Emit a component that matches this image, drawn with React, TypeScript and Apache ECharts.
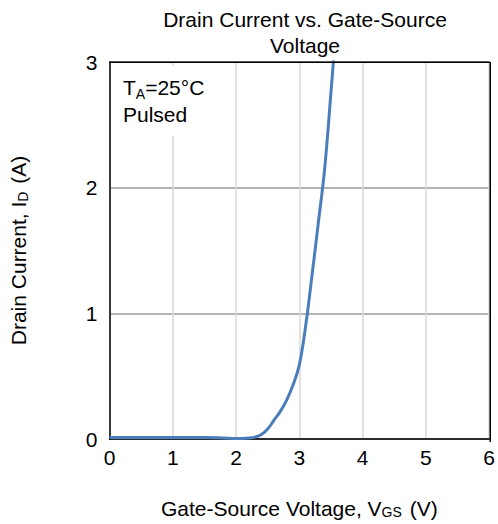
import React, { useEffect, useRef } from "react";
import * as echarts from "echarts";

const vgs = [0, 0.5, 1, 1.5, 1.8, 2.0, 2.2, 2.3, 2.4, 2.5, 2.6, 2.7, 2.8, 2.9, 3.0, 3.1, 3.2, 3.3, 3.4, 3.5, 3.6];
const id = [0.012, 0.012, 0.012, 0.012, 0.008, 0.004, 0.008, 0.015, 0.035, 0.08, 0.15, 0.22, 0.31, 0.43, 0.59, 0.9, 1.3, 1.72, 2.15, 2.76, 3.4];
const titleLines = ["Drain Current vs. Gate-Source", "Voltage"];

const FONT = "'Liberation Sans', Arial, sans-serif";

export default function App() {
  const ref = useRef<HTMLDivElement>(null);
  useEffect(() => {
    const chart = echarts.init(ref.current!, null, { renderer: "svg" });
    const data = vgs.map((v, i) => [v, id[i]]);
    const sub = (size: number, pad: number) => ({
      fontSize: size,
      verticalAlign: "bottom",
      padding: [pad, 2, 0, 0],
      fontFamily: FONT,
      color: "#000",
    });
    chart.setOption({
      animation: false,
      textStyle: { fontFamily: FONT },
      title: {
        text: titleLines.join("\n"),
        left: 300,
        top: 1,
        textAlign: "center",
        textStyle: { fontFamily: FONT, fontSize: 21, fontWeight: "normal", color: "#000", lineHeight: 26 },
      },
      grid: { left: 109, right: 8, top: 62, bottom: 83 },
      xAxis: {
        type: "value",
        min: 0,
        max: 6,
        interval: 1,
        name: "Gate-Source Voltage, V{sub|GS} (V)",
        nameLocation: "middle",
        nameGap: 58,
        nameTextStyle: {
          fontFamily: FONT,
          fontSize: 21,
          color: "#000",
          rich: { sub: sub(14, 8) },
        },
        axisLine: { show: true, onZero: false, lineStyle: { color: "#000", width: 1.5 } },
        axisTick: { show: false },
        axisLabel: { fontFamily: FONT, fontSize: 21, color: "#000", margin: 8 },
        splitLine: { show: true, lineStyle: { color: "#d9d9d9", width: 1.5 } },
      },
      yAxis: {
        type: "value",
        min: 0,
        max: 3,
        interval: 1,
        name: "Drain Current, I{sub|D} (A)",
        nameLocation: "middle",
        nameGap: 80,
        nameRotate: 90,
        nameTextStyle: {
          fontFamily: FONT,
          fontSize: 21,
          color: "#000",
          rich: { sub: sub(14, 8) },
        },
        axisLine: { show: true, onZero: false, lineStyle: { color: "#000", width: 1.5 } },
        axisTick: { show: false },
        axisLabel: { fontFamily: FONT, fontSize: 21, color: "#000", margin: 12 },
        splitLine: { show: true, lineStyle: { color: "#9a9a9a", width: 1.5 } },
      },
      graphic: [
        {
          type: "rect",
          shape: { x: 0, y: 0, width: 490 - 109, height: 1.5 },
          x: 109,
          y: 61.5,
          style: { fill: "#000" },
          z: 100,
        },
        {
          type: "rect",
          shape: { x: 0, y: 0, width: 1.5, height: 380 },
          x: 489.5,
          y: 62,
          style: { fill: "#000" },
          z: 100,
        },
        {
          type: "rect",
          shape: { x: 0, y: 0, width: 105, height: 70 },
          x: 114,
          y: 66,
          style: { fill: "#fff" },
          z: 50,
        },
        {
          type: "text",
          x: 123,
          y: 74,
          z: 60,
          style: {
            text: "T{sub|A}=25°C\nPulsed",
            fontFamily: FONT,
            fontSize: 21,
            fill: "#000",
            lineHeight: 27,
            rich: {
              sub: { fontSize: 14, verticalAlign: "bottom", padding: [8, 0, 0, 0], fontFamily: FONT, fill: "#000" },
            },
          },
        },
      ],
      series: [
        {
          type: "line",
          data,
          smooth: 0.4,
          showSymbol: false,
          clip: true,
          lineStyle: { color: "#4a7ebb", width: 3 },
          z: 10,
        },
      ],
    });
    return () => chart.dispose();
  }, []);
  return <div ref={ref} style={{ position: "absolute", left: 0, top: 0, width: 498, height: 524 }} />;
}
